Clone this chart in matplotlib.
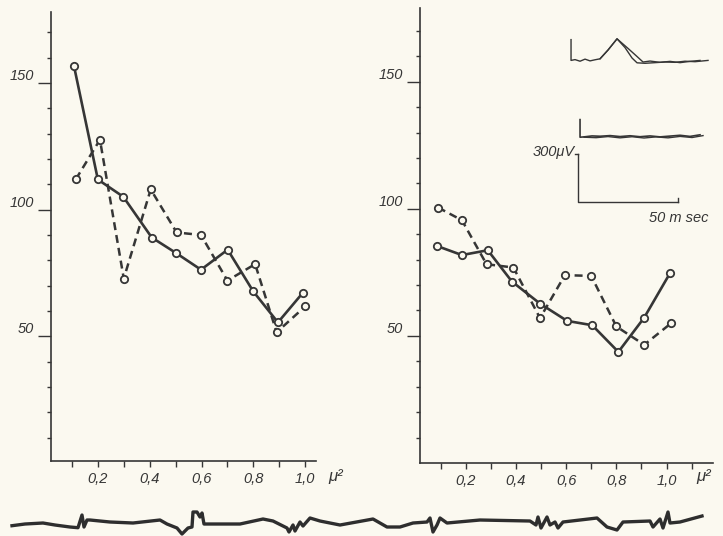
import numpy as np
import matplotlib
matplotlib.use("Agg")
import matplotlib.pyplot as plt
import matplotlib.ticker as mt

# left panel
left_x_solid = [0.108, 0.20, 0.298, 0.408, 0.50, 0.598, 0.701, 0.80, 0.895, 0.992]
left_y_solid = [156.6, 111.9, 105.1, 89.0, 83.0, 76.3, 84.2, 67.7, 55.5, 67.3]
left_x_dash = [0.115, 0.208, 0.30, 0.404, 0.504, 0.598, 0.70, 0.807, 0.89, 1.0]
left_y_dash = [112.0, 127.6, 72.8, 108.0, 91.0, 90.0, 72.0, 78.5, 51.6, 61.8]

# right panel
right_x_solid = [0.085, 0.185, 0.288, 0.384, 0.496, 0.604, 0.704, 0.808, 0.911, 1.015]
right_y_solid = [85.4, 81.8, 83.7, 71.4, 62.7, 55.9, 54.2, 43.7, 57.2, 74.9]
right_x_dash = [0.09, 0.185, 0.283, 0.39, 0.496, 0.595, 0.70, 0.80, 0.911, 1.017]
right_y_dash = [100.5, 95.5, 78.2, 76.9, 57.0, 73.9, 73.6, 53.7, 46.5, 54.9]

y_major = [50, 100, 150]
y_minor = list(range(10, 180, 10))
x_major = [0.2, 0.4, 0.6, 0.8, 1.0]
x_labels = ["0,2", "0,4", "0,6", "0,8", "1,0"]
left_x_minor = [0.1, 0.3, 0.5, 0.7, 0.9]
right_x_minor = [0.1, 0.3, 0.5, 0.7, 0.9, 1.1]

# inset sweeps: time in ms, amplitude in uV relative to each baseline
up_a_t = [5.5, 5.5, 7.5, 10, 12.5, 15, 17.5, 20, 24, 28.5, 32.5, 36, 38.5, 42.5, 47.5, 52.5, 57.5, 62.5, 67.5, 74]
up_a_v = [130, 0, 5, -5, 8, -3, 4, 10, 65, 135, 80, 15, -15, -18, -14, -10, -12, -5, -8, 0]
up_b_t = [20, 24, 28.5, 34, 38, 41.5, 45, 50, 55, 60, 65, 70]
up_b_v = [10, 65, 135, 75, 30, -10, -4, -12, -6, -14, -6, 0]
lo_a_t = [10, 10, 12, 16, 20, 25, 30, 35, 40, 45, 50, 55, 60, 65, 70]
lo_a_v = [110, 0, 2, 8, 6, 10, 4, 9, 3, 8, 2, 7, 12, 5, 15]
lo_b_t = [12, 18, 24, 30, 36, 42, 48, 54, 60, 66, 71.5]
lo_b_v = [0, -3, 4, -4, 3, -5, 2, -4, 5, -2, 10]
scale_ms = 50
scale_uv = 300

# bottom trace, time in s, amplitude in uV
eeg_t = [0.12, 0.25, 0.43, 0.55, 0.70, 0.78, 0.82, 0.84, 0.87, 0.90, 1.10, 1.33, 1.60, 1.67,
         1.77, 1.82, 1.88, 1.92, 1.93, 1.97, 2.00, 2.02, 2.04, 2.20, 2.40, 2.63, 2.73, 2.87,
         2.89, 2.93, 2.95, 3.00, 3.03, 3.10, 3.20, 3.40, 3.73, 3.87, 4.00, 4.13, 4.27, 4.30,
         4.33, 4.37, 4.40, 4.47, 4.80, 5.30, 5.36, 5.38, 5.41, 5.47, 5.50, 5.55, 5.58, 5.63,
         5.97, 6.07, 6.17, 6.23, 6.50, 6.53, 6.60, 6.63, 6.68, 6.70, 6.80, 7.02]
eeg_v = [-7, 10, 20, 0, -20, -27, 100, -20, 50, 50, 30, 20, 50, 10,
         -30, -90, -30, -20, 130, 130, 80, 120, 10, 10, 10, 60, 40, -30,
         -70, 0, -60, 30, -10, 70, 40, 0, 60, -20, -20, 20, 30, 70,
         -70, 0, 70, 20, 50, 40, 0, 80, -30, 80, 0, 30, -30, 30,
         70, -20, -50, 30, 40, -20, 60, -30, 130, 20, 30, 90]

bg = "#fbf9f0"
ink = "#363636"
plt.rcParams["font.family"] = ["Liberation Sans", "DejaVu Sans"]

fig = plt.figure(figsize=(7.23, 5.36), dpi=100, facecolor=bg)


def panel(rect, xlim, ylim, x_minor, xs, ys, xd, yd, mu_off):
    ax = fig.add_axes(rect)
    ax.set_facecolor("none")
    ax.set_xlim(*xlim)
    ax.set_ylim(*ylim)
    for s in ["top", "right"]:
        ax.spines[s].set_visible(False)
    for s in ["left", "bottom"]:
        ax.spines[s].set_color(ink)
        ax.spines[s].set_linewidth(1.2)

    ax.yaxis.set_major_locator(mt.FixedLocator(y_major))
    ax.yaxis.set_minor_locator(mt.FixedLocator(y_minor))
    ax.set_yticklabels([str(v) for v in y_major])
    ax.tick_params(axis="y", which="major", length=9.5, width=1, color=ink, pad=3,
                   labelsize=10.5, labelcolor=ink)
    ax.tick_params(axis="y", which="minor", length=3, width=1, color=ink)
    for lbl in ax.get_yticklabels():
        lbl.set_style("italic")
        lbl.set_va("bottom")

    ax.xaxis.set_major_locator(mt.FixedLocator(x_major))
    ax.xaxis.set_minor_locator(mt.FixedLocator(x_minor))
    ax.set_xticklabels(x_labels)
    ax.tick_params(axis="x", which="both", length=4, width=1, color=ink, pad=4,
                   labelsize=10.5, labelcolor=ink)
    for lbl in ax.get_xticklabels():
        lbl.set_style("italic")

    mk = dict(marker="o", markersize=5.3, markerfacecolor=bg, markeredgecolor=ink,
              markeredgewidth=1.3, color=ink)
    ax.plot(xs, ys, linewidth=1.9, **mk)
    ax.plot(xd, yd, linewidth=1.8, dashes=(3.2, 2.0), **mk)

    ax.annotate("\u03bc\u00b2", xy=(1, 0), xycoords="axes fraction", xytext=mu_off,
                textcoords="offset points", ha="center", va="center",
                fontsize=12, style="italic", color=ink)
    return ax


panel([0.0705, 0.1399, 0.3666, 0.8377], (0.019, 1.042), (0.8, 178), left_x_minor,
      left_x_solid, left_y_solid, left_x_dash, left_y_dash, (14, -11))
panel([0.5809, 0.1362, 0.4053, 0.8489], (0.018, 1.185), (0, 179), right_x_minor,
      right_x_solid, right_y_solid, right_x_dash, right_y_dash, (-7, -10))

# inset with evoked responses and scale bar
ins = fig.add_axes([0.7746, 0.5709, 0.2213, 0.3731])
ins.set_xlim(0, 80)
ins.set_ylim(0, 1250)
ins.axis("off")
up_base = 1060
lo_base = 580
ins.plot(up_a_t, np.array(up_a_v) + up_base, color=ink, linewidth=1.0)
ins.plot(up_b_t, np.array(up_b_v) + up_base, color=ink, linewidth=1.0)
ins.plot(lo_a_t, np.array(lo_a_v) + lo_base, color=ink, linewidth=1.2)
ins.plot(lo_b_t, np.array(lo_b_v) + lo_base, color=ink, linewidth=1.0)

bar_t0, bar_v0 = 9, 175
ins.plot([bar_t0, bar_t0, bar_t0 + scale_ms], [bar_v0 + scale_uv, bar_v0, bar_v0],
         color=ink, linewidth=1.0)
ins.plot([bar_t0 - 1.5, bar_t0], [bar_v0 + scale_uv] * 2, color=ink, linewidth=1.0)
ins.plot([bar_t0 + scale_ms] * 2, [bar_v0, bar_v0 + 25], color=ink, linewidth=1.0)
ins.text(bar_t0 - 1.5, bar_v0 + scale_uv + 15, "300\u03bcV", ha="right", va="center",
         fontsize=10.5, style="italic", color=ink)
ins.text(bar_t0 + scale_ms + 0.5, bar_v0 - 55, "50 m sec", ha="center", va="top",
         fontsize=10.5, style="italic", color=ink)

# bottom EEG strip
eeg = fig.add_axes([0, 0, 1, 0.0578])
eeg.set_xlim(0, 7.23)
eeg.set_ylim(-110, 200)
eeg.axis("off")
eeg.plot(eeg_t, eeg_v, color="#2e2e2e", linewidth=2.4)

fig.savefig("out.png", dpi=100, facecolor=bg)
